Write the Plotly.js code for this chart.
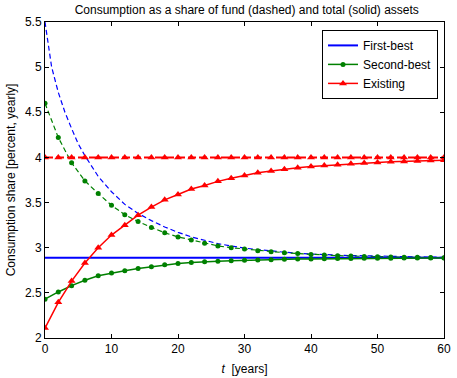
<!DOCTYPE html>
<html>
<head>
<meta charset="utf-8">
<script src="https://cdn.plot.ly/plotly-3.0.1.min.js"></script>
<style>html,body{margin:0;padding:0;background:#fff;}#chart{width:457px;height:378px;}</style>
</head>
<body>
<div id="chart"></div>
<script>
// time grid for marked series (every 2 years)
var t2 = [0,2,4,6,8,10,12,14,16,18,20,22,24,26,28,30,32,34,36,38,40,42,44,46,48,50,52,54,56,58,60];
// First-best
var firstBestTotal = [2.89,2.89];
var firstBestTotalT = [0,60];
var firstBestFundT = [0,1,2,3,4,5,6,8,10,12,14,16,18,20,22,24,26,28,30,32,34,36,38,40,45,50,55,60];
var firstBestFund = [5.5,5.0,4.72,4.50,4.32,4.15,4.02,3.79,3.62,3.48,3.38,3.30,3.23,3.17,3.12,3.08,3.045,3.02,2.995,2.98,2.962,2.95,2.94,2.93,2.915,2.905,2.898,2.893];
// Second-best
var secondBestTotal = [2.43,2.51,2.58,2.64,2.69,2.72,2.745,2.77,2.79,2.81,2.825,2.835,2.845,2.85,2.855,2.86,2.865,2.868,2.871,2.874,2.876,2.878,2.88,2.881,2.882,2.883,2.884,2.885,2.885,2.886,2.886];
var secondBestFund = [4.6,4.22,3.94,3.74,3.60,3.47,3.365,3.29,3.225,3.165,3.12,3.085,3.05,3.02,3.0,2.985,2.967,2.955,2.945,2.935,2.925,2.918,2.912,2.907,2.903,2.9,2.897,2.895,2.893,2.891,2.89];
// Existing
var existingTotal = [2.11,2.395,2.63,2.83,3.0,3.14,3.25,3.36,3.45,3.53,3.59,3.65,3.69,3.735,3.77,3.80,3.83,3.85,3.87,3.885,3.90,3.91,3.92,3.93,3.938,3.945,3.951,3.956,3.961,3.966,3.97];
var existingFund = [4,4,4,4,4,4,4,4,4,4,4,4,4,4,4,4,4,4,4,4,4,4,4,4,4,4,4,4,4,4,4];
// ticks
var xTicks = [0,10,20,30,40,50,60];
var yTicks = [2,2.5,3,3.5,4,4.5,5,5.5];

var BLUE = '#0000ff', GREEN = '#008000', RED = '#ff0000';
var F = 'Liberation Sans, Arial, sans-serif';

var traces = [
  {x: firstBestFundT, y: firstBestFund, mode: 'lines', line: {color: BLUE, width: 1.2, dash: '5px,3px'}, showlegend: false, hoverinfo: 'skip'},
  {x: t2, y: secondBestFund, mode: 'lines+markers', line: {color: GREEN, width: 1.2, dash: '5px,3px'}, marker: {color: GREEN, size: 5, symbol: 'circle'}, showlegend: false},
  {x: t2, y: existingFund, mode: 'lines+markers', line: {color: RED, width: 2, dash: '8px,3px'}, marker: {color: RED, size: 7, symbol: 'triangle-up'}, showlegend: false},
  {x: firstBestTotalT, y: firstBestTotal, mode: 'lines', name: 'First-best', line: {color: BLUE, width: 2}},
  {x: t2, y: secondBestTotal, mode: 'lines+markers', name: 'Second-best', line: {color: GREEN, width: 1.5}, marker: {color: GREEN, size: 5, symbol: 'circle'}},
  {x: t2, y: existingTotal, mode: 'lines+markers', name: 'Existing', line: {color: RED, width: 1.5}, marker: {color: RED, size: 7, symbol: 'triangle-up'}}
];

var axisBase = {
  showline: true, linecolor: '#000', linewidth: 1, mirror: 'ticks',
  ticks: 'inside', ticklen: 4, tickcolor: '#000', tickwidth: 1,
  showgrid: false, zeroline: false,
  tickfont: {family: F, size: 12, color: '#000'}
};

var layout = {
  width: 457, height: 378,
  margin: {l: 45, r: 13, t: 22, b: 40},
  paper_bgcolor: '#fff', plot_bgcolor: '#fff',
  title: {text: 'Consumption as a share of fund (dashed) and total (solid) assets', font: {family: F, size: 12, color: '#000'}, x: 0.54, xanchor: 'center', y: 0.975, yanchor: 'middle'},
  xaxis: Object.assign({}, axisBase, {range: [0, 60], tickvals: xTicks, ticktext: xTicks.map(String),
    title: {text: '<i>t</i>  [years]', font: {family: F, size: 12, color: '#000'}, standoff: 9}}),
  yaxis: Object.assign({}, axisBase, {range: [2, 5.5], tickvals: yTicks, ticktext: yTicks.map(String),
    title: {text: 'Consumption share [percent, yearly]', font: {family: F, size: 12, color: '#000'}, standoff: 6}}),
  legend: {x: 0.985, xanchor: 'right', y: 0.975, yanchor: 'top', bgcolor: '#fff', bordercolor: '#000', borderwidth: 1,
    font: {family: F, size: 12, color: '#000'}, tracegroupgap: 0},
  showlegend: true
};

Plotly.newPlot('chart', traces, layout, {displayModeBar: false, staticPlot: true});
</script>
</body>
</html>
